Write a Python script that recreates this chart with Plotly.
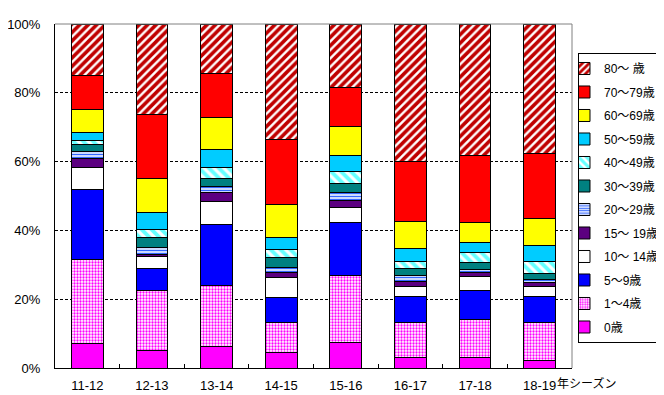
import plotly.graph_objects as go

seasons = ["11-12", "12-13", "13-14", "14-15", "15-16", "16-17", "17-18", "18-19"]

age_labels = ["0歳", "1～4歳", "5～9歳", "10～ 14歳", "15～ 19歳", "20～29歳",
              "30～39歳", "40～49歳", "50～59歳", "60～69歳", "70～79歳", "80～ 歳"]

age_0 = [7.0, 5.1, 6.3, 4.6, 7.5, 3.1, 3.1, 2.2]
age_1_4 = [24.5, 17.5, 17.8, 8.7, 19.4, 10.2, 11.1, 11.1]
age_5_9 = [20.5, 6.4, 17.5, 7.3, 15.5, 7.6, 8.4, 7.6]
age_10_14 = [6.4, 3.5, 6.7, 5.8, 4.4, 2.9, 4.1, 2.9]
age_15_19 = [2.6, 0.5, 2.6, 1.5, 1.8, 1.4, 1.2, 1.2]
age_20_29 = [2.0, 2.1, 2.0, 1.4, 2.3, 1.8, 0.8, 0.8]
age_30_39 = [2.0, 2.7, 2.1, 2.9, 2.6, 2.0, 2.1, 1.8]
age_40_49 = [1.2, 2.6, 3.4, 2.2, 3.5, 2.1, 2.9, 3.5]
age_50_59 = [2.4, 4.9, 5.0, 3.4, 4.7, 3.5, 2.9, 4.6]
age_60_69 = [6.6, 9.7, 9.3, 9.6, 8.4, 8.0, 5.8, 7.9]
age_70_79 = [9.9, 18.6, 12.8, 18.9, 11.3, 17.3, 19.3, 18.9]
age_80_up = [14.8, 26.4, 14.5, 33.7, 18.6, 40.1, 38.3, 37.5]

series = [age_0, age_1_4, age_5_9, age_10_14, age_15_19, age_20_29,
          age_30_39, age_40_49, age_50_59, age_60_69, age_70_79, age_80_up]

styles = [
    dict(color="#FF00FF"),
    dict(color="#FFFFFF", pattern=dict(shape=".", fgcolor="#FF00FF", bgcolor="#FFFFFF",
                                       size=3, solidity=0.45, fgopacity=1)),
    dict(color="#0000FF"),
    dict(color="#FFFFFF"),
    dict(color="#5C0080"),
    dict(color="#FFFFFF", pattern=dict(shape="-", fgcolor="#3366FF", bgcolor="#FFFFFF",
                                       size=3, solidity=0.5, fgopacity=1)),
    dict(color="#008080"),
    dict(color="#FFFFFF", pattern=dict(shape="\\", fgcolor="#66FFFF", bgcolor="#FFFFFF",
                                       size=7, solidity=0.55, fgopacity=1)),
    dict(color="#00CCFF"),
    dict(color="#FFFF00"),
    dict(color="#FF0000"),
    dict(color="#FFFFFF", pattern=dict(shape="/", fgcolor="#C00000", bgcolor="#FFFFFF",
                                       size=6, solidity=0.6, fgopacity=1)),
]

font_family = "Liberation Sans, Noto Sans CJK JP, sans-serif"

fig = go.Figure()
n = len(age_labels)
for i, (name, vals, st) in enumerate(zip(age_labels, series, styles)):
    marker = dict(line=dict(color="#000000", width=1), **st)
    fig.add_trace(go.Bar(x=seasons, y=vals, name=name, marker=marker,
                         legendgroup=name, legendrank=n - i))

# the page body adds an 8px margin, so the figure is 8px smaller each way
fig.update_layout(
    barmode="stack",
    bargap=0.51,
    width=656, height=387,
    margin=dict(l=47, r=92, t=16, b=27, autoexpand=False),
    paper_bgcolor="#FFFFFF",
    plot_bgcolor="#FFFFFF",
    font=dict(family=font_family, size=13, color="#000000"),
    legend=dict(
        x=1.0116, y=0.9157, xanchor="left", yanchor="top",
        bordercolor="#000000", borderwidth=1, bgcolor="#FFFFFF",
        traceorder="grouped", tracegroupgap=4.5,
        font=dict(family=font_family, size=12),
        itemwidth=30, indentation=-15,
    ),
    xaxis=dict(
        type="category",
        showline=True, linecolor="#000000", linewidth=1,
        ticks="inside", tickson="boundaries", ticklen=4, tickcolor="#000000",
        showgrid=False, ticklabelstandoff=5,
        tickfont=dict(size=13),
    ),
    yaxis=dict(
        range=[0, 100], tickvals=[0, 20, 40, 60, 80, 100],
        ticktext=["0%", "20%", "40%", "60%", "80%", "100%"],
        showline=True, linecolor="#000000", linewidth=1,
        showgrid=True, gridcolor="#000000", griddash="3px,2px", gridwidth=1,
        ticks="", ticklabelstandoff=11,
        tickfont=dict(size=13),
        zeroline=False,
    ),
    showlegend=True,
)

# grey top/right border of the plot area
fig.add_shape(type="line", xref="paper", yref="paper", x0=0, x1=1, y0=1, y1=1,
              line=dict(color="#808080", width=1))
fig.add_shape(type="line", xref="paper", yref="paper", x0=1, x1=1, y0=0, y1=1,
              line=dict(color="#808080", width=1))

fig.add_annotation(text="年シーズン", xref="paper", yref="paper",
                   x=0.967, y=-0.045, xanchor="left", yanchor="middle",
                   showarrow=False, font=dict(family=font_family, size=12))

fig.write_html("out.html")
